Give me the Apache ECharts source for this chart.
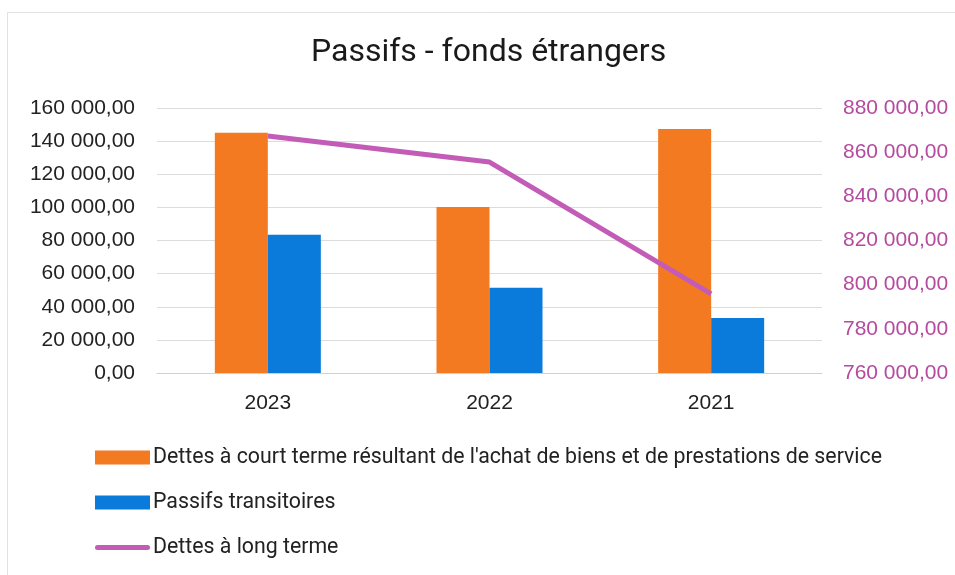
<!DOCTYPE html>
<html>
<head>
<meta charset="utf-8">
<script src="https://cdn.jsdelivr.net/npm/echarts@6/dist/echarts.min.js"></script>
<style>
  html, body { margin: 0; padding: 0; background: #fff; }
  #chart { width: 955px; height: 575px; }
</style>
</head>
<body>
<div id="chart"></div>
<script>
const AXIS_FONT = '"Liberation Sans", Arial, sans-serif';
const TEXT_FONT = 'Roboto, sans-serif';

const years = ['2023', '2022', '2021'];
const shortTermDebts = [145000, 100200, 147300];
const transitoryLiabilities = [83500, 51500, 33200];
const longTermDebts = [867300, 855500, 795800];

const seriesNames = [
  "Dettes à court terme résultant de l'achat de biens et de prestations de service",
  'Passifs transitoires',
  'Dettes à long terme',
];

// "160 000,00" style labels
function frNumber(v) {
  const parts = Math.round(v).toString().replace(/\B(?=(\d{3})+(?!\d))/g, ' ');
  return parts + ',00';
}

const axisFontStyle = {
  fontFamily: AXIS_FONT,
  fontSize: 21,
  color: '#222',
};

const chart = echarts.init(document.getElementById('chart'));

const chartDescription = {
  animation: false,
  graphic: [
    {
      type: 'rect',
      left: 5,
      top: 10,
      shape: { width: 1000, height: 600 },
      style: { fill: 'none', stroke: '#e2e2e2', lineWidth: 1 },
      silent: true,
    },
  ],
  title: {
    text: 'Passifs - fonds étrangers',
    left: 311,
    top: 37,
    padding: 0,
    textStyle: {
      fontFamily: TEXT_FONT,
      fontSize: 32,
      fontWeight: 'normal',
      color: '#1a1a1a',
    },
  },
  grid: {
    left: 157,
    right: 133,
    top: 108,
    bottom: 202,
  },
  xAxis: {
    type: 'category',
    data: years,
    axisTick: { show: false },
    axisLine: { lineStyle: { color: '#d0d0d0' } },
    axisLabel: { ...axisFontStyle, margin: 20 },
  },
  yAxis: [
    {
      type: 'value',
      min: 0,
      max: 160000,
      interval: 20000,
      axisLine: { show: false },
      axisTick: { show: false },
      splitLine: { lineStyle: { color: '#dcdcdc' } },
      axisLabel: { ...axisFontStyle, margin: 22, formatter: frNumber },
    },
    {
      type: 'value',
      min: 760000,
      max: 880000,
      interval: 20000,
      axisLine: { show: false },
      axisTick: { show: false },
      splitLine: { show: false },
      axisLabel: { ...axisFontStyle, color: '#b54a9f', margin: 21, formatter: frNumber },
    },
  ],
  legend: {
    orient: 'vertical',
    left: 95,
    top: 447,
    padding: 0,
    itemWidth: 55,
    itemHeight: 14,
    itemGap: 24,
    textStyle: { fontFamily: TEXT_FONT, fontSize: 21.3, color: '#222', padding: [0, 0, 0, -2] },
    data: [
      { name: seriesNames[0], icon: 'rect' },
      { name: seriesNames[1], icon: 'rect' },
      { name: seriesNames[2], icon: 'path://M5,0L105,0A5,5,0,0,1,105,10L5,10A5,5,0,0,1,5,0Z' },
    ],
  },
  series: [
    {
      name: seriesNames[0],
      type: 'bar',
      barWidth: 53,
      barGap: '0%',
      data: shortTermDebts,
      itemStyle: { color: '#f47a22' },
    },
    {
      name: seriesNames[1],
      type: 'bar',
      barWidth: 53,
      data: transitoryLiabilities,
      itemStyle: { color: '#0b7bdb' },
    },
    {
      name: seriesNames[2],
      type: 'line',
      yAxisIndex: 1,
      data: longTermDebts,
      symbol: 'none',
      lineStyle: { color: '#c35cb7', width: 5 },
      itemStyle: { color: '#c35cb7' },
    },
  ],
};

chart.setOption(chartDescription);
</script>
</body>
</html>
